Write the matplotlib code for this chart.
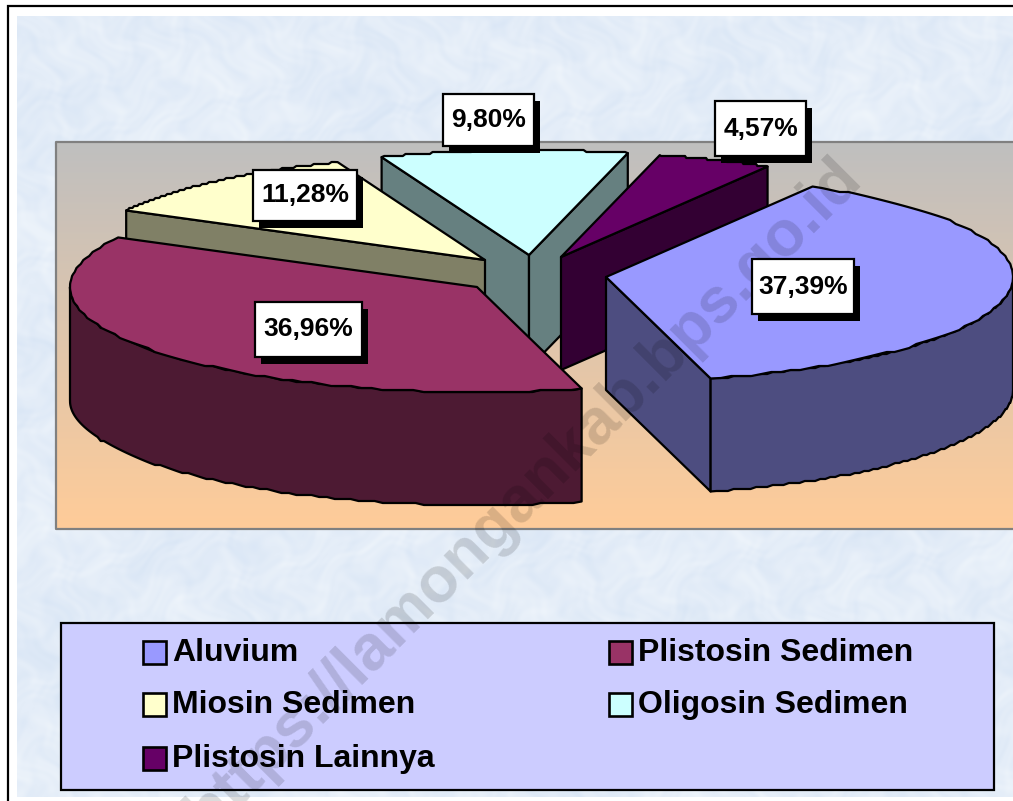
import numpy as np
import matplotlib
matplotlib.use('Agg')
import matplotlib.pyplot as plt
from matplotlib.colors import LinearSegmentedColormap
from matplotlib.patches import Polygon, Rectangle

categories = ['Aluvium', 'Plistosin Sedimen', 'Miosin Sedimen', 'Oligosin Sedimen', 'Plistosin Lainnya']
values = [37.39, 36.96, 11.28, 9.80, 4.57]
value_labels = ['37,39%', '36,96%', '11,28%', '9,80%', '4,57%']
top_colors = ['#9999FF', '#993366', '#FFFFCC', '#CCFFFF', '#660066']
side_colors = ['#4D4D80', '#4D1A33', '#808066', '#668080', '#330033']

# layout, in pixels of the picture
W, H = 1013, 801
rx, ry, depth = 407, 105, 113
first_angle = 30.5
centers = [(606, 277), (477, 287), (485, 260), (529, 255), (561, 257)]
draw_order = [3, 4, 2, 1, 0]
label_boxes = [(752, 259, 102, 55), (255, 302, 107, 55), (253, 170, 104, 51), (443, 94, 91, 52), (715, 101, 91, 55)]
legend_rows = [652, 704, 758]
legend_cols = [143, 609]

LW = 1.6
FONT = 'Liberation Sans'


def rim_points(center, t0, t1):
    t = np.radians(np.linspace(t0, t1, 90))
    x = center[0] + rx * np.sin(t)
    y = center[1] - ry * np.cos(t)
    # the old renderer steps its arcs, keep that slightly wavy look
    y[1:-1] = np.round(y[1:-1] / 2) * 2
    return np.column_stack([x, y])


def poly(ax, pts, color, z):
    ax.add_patch(Polygon(pts, closed=True, facecolor=color, edgecolor='black', linewidth=LW, joinstyle='round', zorder=z))


def draw_wedge(ax, i, t0, t1, z):
    c = np.array(centers[i], dtype=float)
    down = np.array([0, depth])
    # side faces along the two radii, only when they face the viewer
    if np.sin(np.radians(t0)) < 0:
        p = rim_points(c, t0, t0)[0]
        poly(ax, [c, p, p + down, c + down], side_colors[i], z)
    if np.sin(np.radians(t1)) > 0:
        p = rim_points(c, t1, t1)[0]
        poly(ax, [c, p, p + down, c + down], side_colors[i], z)
    # outer wall, front half of the ellipse only
    for lo, hi in [(90, 270), (450, 630)]:
        a, b = max(t0, lo), min(t1, hi)
        if a < b:
            r = rim_points(c, a, b)
            poly(ax, np.vstack([r, (r + down)[::-1]]), side_colors[i], z + 0.1)
    poly(ax, np.vstack([c, rim_points(c, t0, t1)]), top_colors[i], z + 0.2)


fig = plt.figure(figsize=(W / 100, H / 100), dpi=100, facecolor='white')
ax = fig.add_axes([0, 0, 1, 1])
ax.set_xlim(0, W)
ax.set_ylim(H, 0)
ax.axis('off')

# outer frame
ax.plot([7.5, 7.5, W], [H, 6, 6], color='black', lw=1.6, zorder=1, solid_joinstyle='miter')

# mottled paper background, warped so it does not look like stripes
yy, xx = np.mgrid[16:797, 17:W]
u = xx + 18 * np.sin(yy * 0.043 + 1.3) + 9 * np.sin(yy * 0.117 + xx * 0.031)
v = yy + 18 * np.sin(xx * 0.037 + 0.4) + 9 * np.sin(xx * 0.109 - yy * 0.029)
tex = (np.sin(u * 0.071) * np.sin(v * 0.083)
       + 0.7 * np.sin(u * 0.173 + 2.0) * np.sin(v * 0.149 + 0.7)
       + 0.5 * np.sin(u * 0.311 + v * 0.127) * np.sin(v * 0.277 - u * 0.093)
       + 0.8 * np.sin(u * 0.019 + 0.9) * np.sin(v * 0.023 + 2.1))
paper = LinearSegmentedColormap.from_list('paper', ['#D8E5F5', '#E4EDF8', '#EFF5FB'])
ax.imshow(tex, extent=[17, W, 797, 16], cmap=paper, aspect='auto', zorder=1, interpolation='bilinear')

# plot area with gradient
grad = np.linspace(0, 1, 256).reshape(-1, 1)
wall = LinearSegmentedColormap.from_list('wall', ['#BFBFBF', '#FFCC99'], N=1024)
ax.imshow(grad, extent=[55, W, 529, 142], cmap=wall, aspect='auto', zorder=2, interpolation='bilinear')
ax.plot([W, 55.5, 55.5, W], [142, 142, 529, 529], color='#808080', lw=1.6, zorder=2.1)
ax.set_xlim(0, W)
ax.set_ylim(H, 0)

# wedges
angles = first_angle + np.concatenate([[0], np.cumsum(values)]) / np.sum(values) * 360
for n, i in enumerate(draw_order):
    draw_wedge(ax, i, angles[i], angles[i + 1], 3 + n)

# legend
ax.add_patch(Rectangle((60.5, 622.5), 933, 167, facecolor='#CCCCFF', edgecolor='black', lw=LW, zorder=9))
for i, name in enumerate(categories):
    row, col = i // 2, i % 2
    x, y = legend_cols[col], legend_rows[row]
    ax.add_patch(Rectangle((x, y - 11.5), 23, 23, facecolor=top_colors[i], edgecolor='black', lw=1.9, zorder=10))
    ax.text(x + 29, y + 1, name, fontsize=23, fontweight='bold', family=FONT, va='center', ha='left', zorder=10)

# watermark
ax.text(524, 495, 'https://lamongankab.bps.go.id', fontsize=46, fontweight='bold', family=FONT,
        color='black', alpha=0.14, rotation=45, rotation_mode='anchor', ha='center', va='center', zorder=11)

# value labels
for i, (x, y, w, h) in enumerate(label_boxes):
    ax.add_patch(Rectangle((x + 6, y + 7), w, h, facecolor='black', edgecolor='black', lw=0, zorder=12))
    ax.add_patch(Rectangle((x, y), w, h, facecolor='white', edgecolor='black', lw=LW, zorder=13))
    ax.text(x + w / 2, y + h / 2, value_labels[i], fontsize=19, fontweight='bold', family=FONT,
            ha='center', va='center', zorder=14)

fig.savefig('out.png', dpi=100)
